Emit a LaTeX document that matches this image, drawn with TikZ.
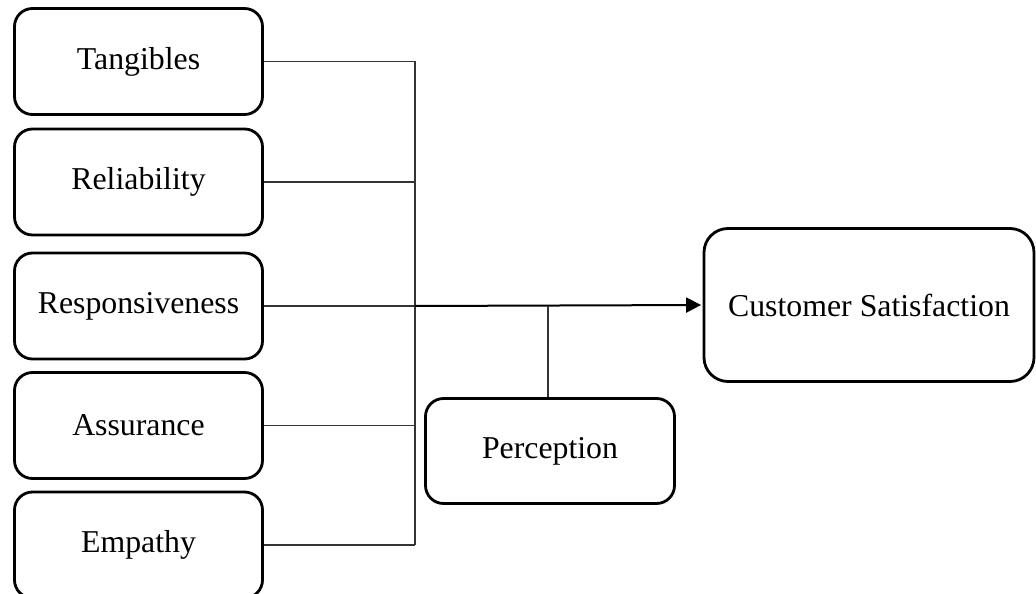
\documentclass[tikz,border=0pt]{standalone}
\usepackage{fontspec}
\setmainfont{Liberation Serif}
\usetikzlibrary{arrows.meta}
\begin{document}
\begin{tikzpicture}[x=1pt,y=-1pt,
  factor/.style={draw, line width=2.8pt, rounded corners=18pt,
    minimum width=248pt, minimum height=106pt, inner sep=0pt,
    font=\fontsize{31.8}{38}\selectfont},
  link/.style={line width=1.3pt, draw=black!80},
  main/.style={line width=2pt, -{Triangle[length=15pt,width=15pt]}, shorten >=1.5pt}]
\useasboundingbox (0,0) rectangle (1036,594);
% Service-quality dimensions
\node[factor] (tang) at (138.5,61.5) {Tangibles};
\node[factor] (rel)  at (138.5,182)  {Reliability};
\node[factor] (resp) at (138.5,306)  {Responsiveness};
\node[factor] (assu) at (138.5,425.5) {Assurance};
\node[factor] (emp)  at (138.5,545)  {Empathy};
% Outcome and moderator
\node[factor, rounded corners=24pt, minimum width=330pt, minimum height=153pt] (cs) at (869,305) {Customer Satisfaction};
\node[factor, minimum width=249pt, minimum height=105pt] (perc) at (550,451) {Perception};
% Collecting bus
\coordinate (bus) at (415,0);
\foreach \n in {tang,rel,resp,assu,emp}
  \draw[link] (\n.east) -- (\n.east -| bus);
\draw[link] (tang.east -| bus) -- (emp.east -| bus);
\draw[main] (resp.east -| bus) -- (cs.west);
\coordinate (stem) at (548,0);
\draw[link] (perc.north -| stem) -- (resp.east -| stem);
\end{tikzpicture}
\end{document}
